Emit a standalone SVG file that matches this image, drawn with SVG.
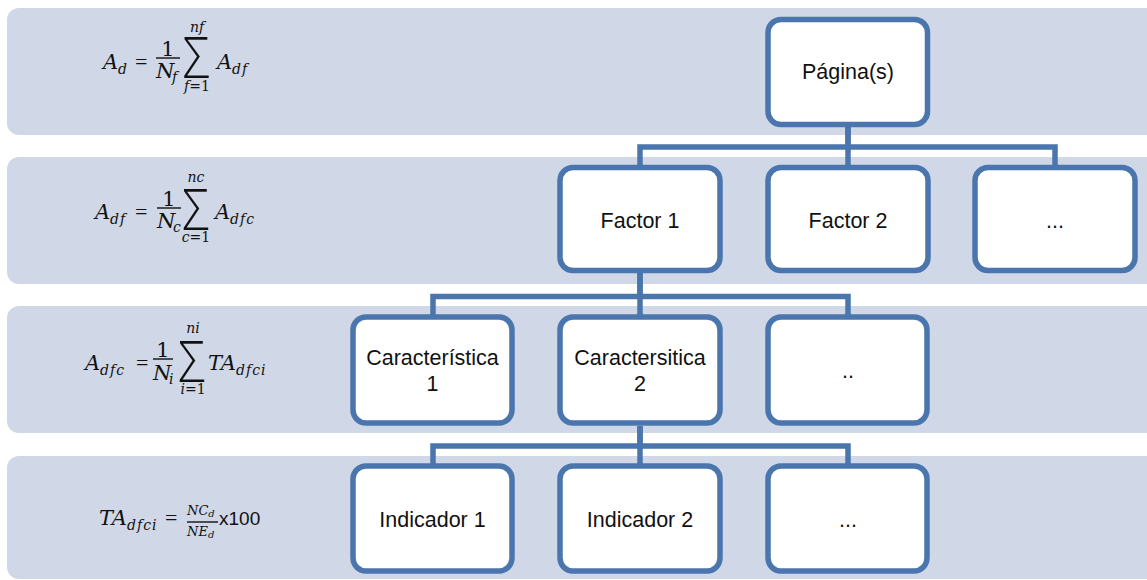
<svg xmlns="http://www.w3.org/2000/svg" width="1147" height="580" viewBox="0 0 1147 580">
  <style>
    .band { fill: #d0d8e7; }
    .node rect { fill: #ffffff; stroke: #4a76ad; stroke-width: 5.5; }
    .lbl { font-family: "Liberation Sans", Arial, sans-serif; font-size: 21.5px; fill: #111; text-anchor: middle; }
    .conn path { fill: none; stroke: #4a76ad; stroke-width: 5.5; stroke-linejoin: miter; }
    .m { font-family: "DejaVu Serif", "Liberation Serif", serif; font-style: italic; font-size: 21px; fill: #111; }
    .u { font-style: normal; }
    .eq { font-family: "Liberation Serif", serif; font-size: 22px; fill: #111; }
    .s { font-size: 14px; }
    .fr { font-size: 13px; }
    .fs { font-size: 10px; }
    .mid { text-anchor: middle; }
    .sum { font-family: "Open Sans", "DejaVu Sans", sans-serif; font-weight: 300; font-size: 57px; fill: #111; text-anchor: middle; }
    .bar { stroke: #111; stroke-width: 1.4; }
    .x { font-family: "Liberation Sans", Arial, sans-serif; font-size: 19px; fill: #111; }
  </style>

  <!-- level bands -->
  <g id="bands">
    <rect class="band" x="7" y="8" width="1160" height="127" rx="12"/>
    <rect class="band" x="7" y="157" width="1160" height="127" rx="12"/>
    <rect class="band" x="7" y="306" width="1160" height="127" rx="12"/>
    <rect class="band" x="7" y="456" width="1160" height="123" rx="12"/>
  </g>

  <!-- aggregation formulas, one per level -->
  <g id="formula-page">
    <text class="m" x="103" y="69">A</text>
    <text class="m s" x="118" y="74">d</text>
    <text class="eq" x="135" y="69">=</text>
    <text class="m u mid" x="168" y="56">1</text>
    <line class="bar" x1="156" y1="58" x2="180" y2="58"/>
    <text class="m" x="156" y="78">N</text>
    <text class="m s" x="172" y="82">f</text>
    <text class="sum" transform="translate(196,78) scale(0.85,1)">Σ</text>
    <text class="m s mid" x="197" y="32">nf</text>
    <text class="m s mid" x="197" y="91">f<tspan class="u">=1</tspan></text>
    <text class="m" x="217" y="69">A</text>
    <text class="m s" x="232" y="74" letter-spacing="1">df</text>
  </g>

  <g id="formula-factor">
    <text class="m" x="95" y="219">A</text>
    <text class="m s" x="110" y="224" letter-spacing="1">df</text>
    <text class="eq" x="135" y="219">=</text>
    <text class="m u mid" x="169" y="206">1</text>
    <line class="bar" x1="157" y1="208" x2="181" y2="208"/>
    <text class="m" x="157" y="228">N</text>
    <text class="m s" x="173" y="232">c</text>
    <text class="sum" transform="translate(195.5,230) scale(0.85,1)">Σ</text>
    <text class="m s mid" x="196" y="182">nc</text>
    <text class="m s mid" x="196" y="242">c<tspan class="u">=1</tspan></text>
    <text class="m" x="215" y="219">A</text>
    <text class="m s" x="230" y="224" letter-spacing="1">dfc</text>
  </g>

  <g id="formula-feature">
    <text class="m" x="85" y="370">A</text>
    <text class="m s" x="100" y="375" letter-spacing="1">dfc</text>
    <text class="eq" x="136" y="370">=</text>
    <text class="m u mid" x="163" y="357">1</text>
    <line class="bar" x1="153" y1="359" x2="173" y2="359"/>
    <text class="m" x="153" y="380">N</text>
    <text class="m s" x="169" y="384">i</text>
    <text class="sum" transform="translate(191.5,382) scale(0.85,1)">Σ</text>
    <text class="m s mid" x="193" y="333">ni</text>
    <text class="m s mid" x="193" y="394">i<tspan class="u">=1</tspan></text>
    <text class="m" x="208" y="370">TA</text>
    <text class="m s" x="236" y="375" letter-spacing="1">dfci</text>
  </g>

  <g id="formula-indicator">
    <text class="m" x="99" y="525">TA</text>
    <text class="m s" x="127" y="530" letter-spacing="1">dfci</text>
    <text class="eq" x="165" y="525">=</text>
    <text class="m fr" x="187" y="515">NC<tspan class="fs" dy="2">d</tspan></text>
    <line class="bar" x1="187" y1="522" x2="218" y2="522"/>
    <text class="m fr" x="187" y="536">NE<tspan class="fs" dy="2">d</tspan></text>
    <text class="x" x="219" y="525">x100</text>
  </g>

  <!-- connectors -->
  <g class="conn" id="connectors">
    <path d="M848,127 V147 H640 V165"/>
    <path d="M848,127 V165"/>
    <path d="M848,147 H1055 V165"/>
    <path d="M640,273 V296.5 H433 V315"/>
    <path d="M640,273 V315"/>
    <path d="M640,296.5 H848 V315"/>
    <path d="M640,426 V446 H433 V464"/>
    <path d="M640,426 V464"/>
    <path d="M640,446 H848 V464"/>
  </g>

  <!-- nodes -->
  <g class="node" id="node-pagina">
    <rect x="768" y="19.5" width="159.5" height="105" rx="13"/>
    <text class="lbl" x="848" y="79">Página(s)</text>
  </g>
  <g class="node" id="node-factor1">
    <rect x="560" y="167.5" width="160" height="103" rx="13"/>
    <text class="lbl" x="640" y="228">Factor 1</text>
  </g>
  <g class="node" id="node-factor2">
    <rect x="768" y="167.5" width="160" height="103" rx="13"/>
    <text class="lbl" x="848" y="228">Factor 2</text>
  </g>
  <g class="node" id="node-factor-more">
    <rect x="975" y="167.5" width="160" height="103" rx="13"/>
    <text class="lbl" x="1055" y="228">...</text>
  </g>
  <g class="node" id="node-caracteristica1">
    <rect x="353" y="317" width="159" height="106" rx="13"/>
    <text class="lbl" x="432.5" y="365">Característica</text>
    <text class="lbl" x="432.5" y="391">1</text>
  </g>
  <g class="node" id="node-caracteristica2">
    <rect x="560" y="317" width="160" height="106" rx="13"/>
    <text class="lbl" x="640" y="365">Caractersitica</text>
    <text class="lbl" x="640" y="391">2</text>
  </g>
  <g class="node" id="node-caracteristica-more">
    <rect x="768" y="317" width="159" height="106" rx="13"/>
    <text class="lbl" x="848" y="378">..</text>
  </g>
  <g class="node" id="node-indicador1">
    <rect x="353" y="466" width="159" height="105" rx="13"/>
    <text class="lbl" x="432.5" y="527">Indicador 1</text>
  </g>
  <g class="node" id="node-indicador2">
    <rect x="560" y="466" width="160" height="105" rx="13"/>
    <text class="lbl" x="640" y="527">Indicador 2</text>
  </g>
  <g class="node" id="node-indicador-more">
    <rect x="768" y="466" width="159" height="105" rx="13"/>
    <text class="lbl" x="848" y="527">...</text>
  </g>
</svg>
